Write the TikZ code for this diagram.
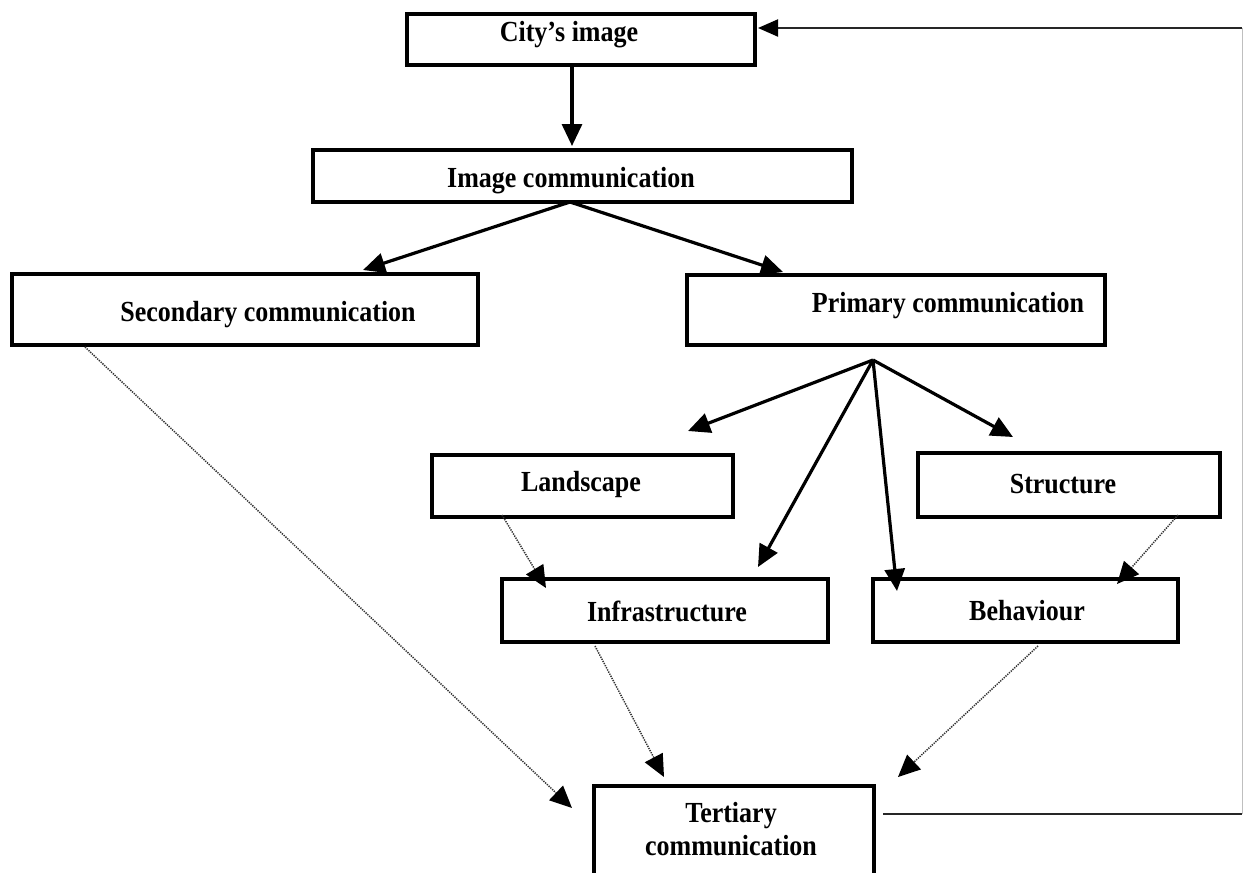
\documentclass[tikz,border=0pt]{standalone}
\usepackage{fontspec}
\usepackage{graphicx}
\setmainfont{Liberation Serif}
\usetikzlibrary{arrows.meta}
\newcommand{\vstr}[1]{\scalebox{1}[1.12]{#1}}
\begin{document}
\begin{tikzpicture}[x=1pt,y=-1pt,
  box/.style={draw, line width=4.2pt, rectangle, inner sep=0pt},
  lbl/.style={font=\fontsize{26}{33}\selectfont\bfseries, inner sep=0pt, align=center},
  tipa/.tip={Triangle[length=22pt,width=20pt,color=black]},
  tipb/.tip={Triangle[length=20pt,width=17pt,color=black]},
  solidarrow/.style={line width=3.2pt, -tipa},
  dotarrow/.style={line width=1.5pt, black!80, dash pattern=on 1.3pt off 1.1pt, -tipa},
  fbline/.style={line width=2pt, black!85}
]
\useasboundingbox (0,0) rectangle (1243,873);

% boxes
\node[box, minimum width=348pt, minimum height=51pt] (city) at (581,39.5) {};
\node[lbl] (citytxt) at (569,35) {\vstr{City’s image}};

\node[box, minimum width=539pt, minimum height=52pt] (imgc) at (582.5,176) {};
\node[lbl] (imgctxt) at (571,181) {\vstr{Image communication}};

\node[box, minimum width=466pt, minimum height=71pt] (sec) at (245,309.5) {};
\node[lbl] (sectxt) at (268,315) {\vstr{Secondary communication}};

\node[box, minimum width=418pt, minimum height=70pt] (prim) at (896,310) {};
\node[lbl] (primtxt) at (948,306) {\vstr{Primary communication}};

\node[box, minimum width=301pt, minimum height=62pt] (land) at (582.5,486) {};
\node[lbl] (landtxt) at (581,484) {\vstr{Landscape}};

\node[box, minimum width=302pt, minimum height=64pt] (struc) at (1069,485) {};
\node[lbl] (structxt) at (1063,484) {\vstr{Structure}};

\node[box, minimum width=326pt, minimum height=63pt] (infra) at (665,610.5) {};
\node[lbl] (infratxt) at (667,611) {\vstr{Infrastructure}};

\node[box, minimum width=305pt, minimum height=63pt] (behav) at (1025.5,610.5) {};
\node[lbl] (behavtxt) at (1027,611) {\vstr{Behaviour}};

\node[box, minimum width=280pt, minimum height=110pt] (tert) at (734,841) {};
\node[lbl] (terttxt) at (731,829.5) {\vstr{Tertiary}\\\vstr{communication}};

% connection points
\coordinate (cityout) at (572,65);
\coordinate (imgcin) at (572,146);
\coordinate (imgcout) at (570,202);
\coordinate (secin) at (363,270);
\coordinate (primin) at (783,272);
\coordinate (fan) at (873,360);
\coordinate (landin) at (688,431);
\coordinate (infrain) at (758,567);
\coordinate (behavin) at (897,591);
\coordinate (strucin) at (1013,437);

\coordinate (secout) at (85,347);
\coordinate (tertinA) at (572,808);
\coordinate (landout) at (502,515);
\coordinate (infrainB) at (546,588);
\coordinate (strucout) at (1178,515);
\coordinate (behavinB) at (1117,584);
\coordinate (infraout) at (595,646);
\coordinate (tertinB) at (664,777);
\coordinate (behavout) at (1038,646);
\coordinate (tertinC) at (898,777);

\coordinate (fbstart) at (883,814);
\coordinate (fbcorner1) at (1242,814);
\coordinate (fbcorner2) at (1242,28);
\coordinate (fbend) at (758,28);

% solid arrows
\draw[solidarrow] (cityout) -- (imgcin);
\draw[solidarrow] (imgcout) -- (secin);
\draw[solidarrow] (imgcout) -- (primin);
\draw[solidarrow] (fan) -- (landin);
\draw[solidarrow] (fan) -- (infrain);
\draw[solidarrow] (fan) -- (behavin);
\draw[solidarrow] (fan) -- (strucin);

% dotted arrows
\draw[dotarrow] (secout) -- (tertinA);
\draw[dotarrow] (landout) -- (infrainB);
\draw[dotarrow] (strucout) -- (behavinB);
\draw[dotarrow] (infraout) -- (tertinB);
\draw[dotarrow] (behavout) -- (tertinC);

% feedback
\draw[fbline] (fbstart) -- (fbcorner1);
\draw[line width=1pt, black!25] (fbcorner1) -- (fbcorner2);
\draw[fbline, -tipb] (fbcorner2) -- (fbend);
\end{tikzpicture}
\end{document}
